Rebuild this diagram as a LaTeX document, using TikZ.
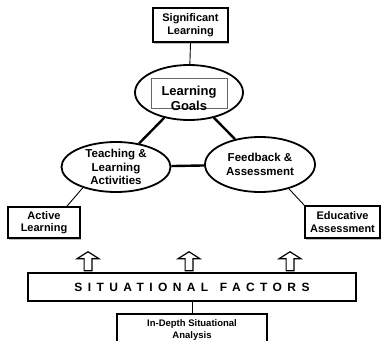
\documentclass[tikz,border=0pt]{standalone}
\usepackage{fontspec}
\setmainfont{Liberation Sans}
\newfontfamily\spacedfont{Liberation Sans}[LetterSpace=45]
\usetikzlibrary{shapes.geometric,shapes.arrows,shadows}
\tikzstyle{out-box} = [draw, line width=1.8pt, fill=white, rectangle,
    inner sep=0pt, align=center, font=\fontsize{11}{12.5}\selectfont\bfseries,
    drop shadow={shadow xshift=1pt, shadow yshift=-1.5pt, fill=black!25, opacity=1}]
\tikzstyle{cycle-node} = [draw, line width=1.8pt, fill=white, ellipse,
    inner sep=0pt, align=center, font=\fontsize{11.5}{13.3}\selectfont\bfseries]
\tikzstyle{goal-frame} = [draw=black!60, line width=0.8pt, rectangle,
    minimum width=76pt, minimum height=30pt, inner sep=0pt]
\tikzstyle{factor-box} = [draw, line width=1.8pt, fill=white, rectangle,
    minimum width=328pt, minimum height=28pt, inner sep=0pt,
    font=\fontsize{12}{14}\selectfont\spacedfont\bfseries]
\tikzstyle{up-arrow} = [draw, line width=1.2pt, fill=white, single arrow,
    rotate=90, minimum height=19pt, inner sep=3.3pt, single arrow head extend=7pt,
    single arrow tip angle=115]
\tikzstyle{link} = [line width=2.4pt]
\tikzstyle{thin-link} = [line width=0.9pt]

\begin{document}
\begin{tikzpicture}[x=1pt,y=-1pt]
\clip (0,0) rectangle (388,340);
% the three parts of the design
\node[cycle-node, minimum width=108pt, minimum height=55pt] (goals) at (189,92.5) {};
\node[goal-frame] (goals-frame) at (189,93) {};
\node[font=\fontsize{13}{15}\selectfont\bfseries, align=center] (goals-text) at (189,98.5) {Learning\\Goals};
\node[cycle-node, minimum width=109pt, minimum height=50pt] (teach) at (116,167) {Teaching \&\\Learning\\Activities};
\node[cycle-node, minimum width=110pt, minimum height=55pt] (feed) at (260,164.5) {Feedback \&\\Assessment};

% outcomes
\node[out-box, minimum width=75pt, minimum height=34pt] (signif) at (190.5,25) {Significant\\Learning};
\node[out-box, minimum width=72pt, minimum height=31pt] (active) at (44,222.5) {Active\\Learning};
\node[out-box, minimum width=75pt, minimum height=32pt] (educ) at (342.5,222) {Educative\\Assessment};

% base
\node[factor-box] (factors) at (192,287) {SITUATIONAL\hspace{3pt} FACTORS};
\node[out-box, font=\fontsize{9.5}{11.5}\selectfont\bfseries, minimum width=150pt, minimum height=32pt] (analysis) at (192,330) {In-Depth Situational\\Analysis};
\foreach \x in {88,189,290}
    \node[up-arrow] (arrow-\x) at (\x,262.5) {};

\draw[link] (goals) -- (teach);
\draw[link] (goals) -- (feed);
\draw[link] (teach) -- (feed);
\draw[thin-link] (signif.south) -- (goals);
\draw[thin-link] (teach.-148) -- ([xshift=23pt]active.north);
\draw[thin-link] (feed.-40) -- (educ.north west);
\draw[thin-link] (factors.south) -- (analysis.north);
\end{tikzpicture}
\end{document}
